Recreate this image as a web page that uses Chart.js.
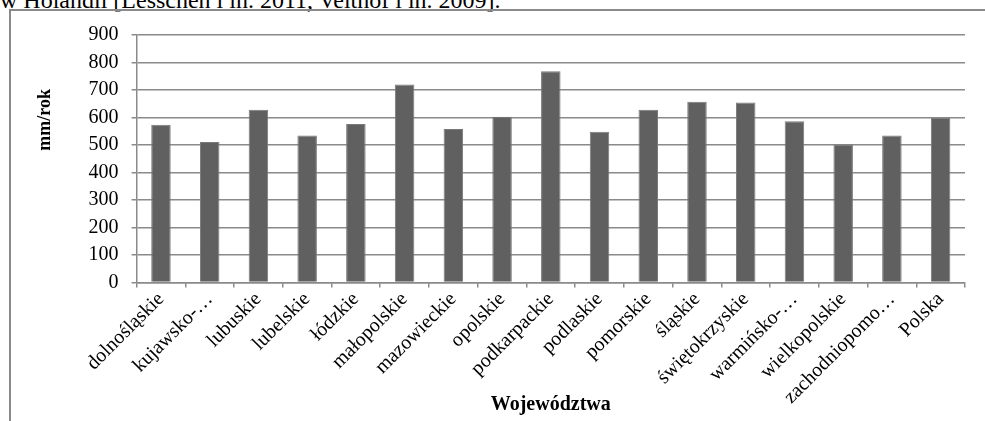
<!DOCTYPE html>
<html>
<head>
<meta charset="utf-8">
<script src="https://cdn.jsdelivr.net/npm/chart.js@4/dist/chart.umd.min.js"></script>
<style>
    html, body { margin: 0; padding: 0; background: #fff; }
    body { width: 985px; height: 421px; position: relative; overflow: hidden; }
    #tekst {
        position: absolute; left: 0; top: -12px;
        font-family: 'Liberation Serif', serif; font-size: 24px; line-height: 24px;
        white-space: nowrap; color: #000;
    }
    #ramka {
        position: absolute; left: 9px; top: 9px; right: -5px; bottom: -5px;
        border-left: 2px solid #8a8a8a; border-top: 2px solid #8a8a8a;
    }
    #wrap { position: absolute; left: 0; top: 0; width: 985px; height: 421px; }
</style>
</head>
<body>
<div id="tekst">w Holandii [Lesschen i in. 2011, Velthof i in. 2009].</div>
<div id="ramka"></div>
<div id="wrap"><canvas id="wykres"></canvas></div>
<script>
// Odpływ (mm/rok) wg województw
const wojewodztwa = ['dolnośląskie', 'kujawsko-…', 'lubuskie', 'lubelskie', 'łódzkie',
    'małopolskie', 'mazowieckie', 'opolskie', 'podkarpackie', 'podlaskie', 'pomorskie',
    'śląskie', 'świętokrzyskie', 'warmińsko-…', 'wielkopolskie', 'zachodniopomo…', 'Polska'];
const wartosci = [574, 511, 628, 535, 576, 720, 558, 603, 768, 548, 628, 657, 655, 586, 502, 535, 599];
const osY = { min: 0, max: 900, krok: 100 };

const szary = '#8a8a8a';
const rodzina = "'Liberation Serif', serif";

new Chart(document.getElementById('wykres'), {
    type: 'bar',
    data: {
        labels: wojewodztwa,
        datasets: [{
            data: wartosci,
            backgroundColor: '#606060',
            borderColor: '#7a7a7a',
            borderWidth: 1,
            barPercentage: 0.4,
            categoryPercentage: 1
        }]
    },
    options: {
        responsive: true,
        maintainAspectRatio: false,
        animation: false,
        layout: { padding: { left: 10, right: 20, top: 35, bottom: 4 } },
        plugins: {
            legend: { display: false },
            tooltip: { enabled: false }
        },
        scales: {
            x: {
                offset: true,
                grid: { offset: true, drawOnChartArea: false, color: szary, lineWidth: 1.5, tickLength: 5 },
                border: { color: szary, width: 1.5 },
                ticks: { color: '#000', font: { family: rodzina, size: 20 }, minRotation: 45, maxRotation: 45, padding: 0, autoSkip: false },
                title: {
                    display: true, text: 'Województwa', color: '#000',
                    font: { family: rodzina, size: 20, weight: 'bold' },
                    padding: { top: -16, bottom: 0 }
                }
            },
            y: {
                min: osY.min,
                max: osY.max,
                grid: { color: szary, lineWidth: 1.5, tickLength: 5 },
                border: { color: szary, width: 1.5 },
                ticks: { color: '#000', font: { family: rodzina, size: 20 }, stepSize: osY.krok, padding: 13, autoSkip: false },
                title: {
                    // w oryginale tytuł osi siedzi wyżej niż środek
                    display: true, text: 'mm/rok' + '\u00a0'.repeat(12), align: 'end', color: '#000',
                    font: { family: rodzina, size: 18, weight: 'bold' },
                    padding: { top: 25, bottom: 19 }
                }
            }
        }
    }
});
</script>
</body>
</html>
